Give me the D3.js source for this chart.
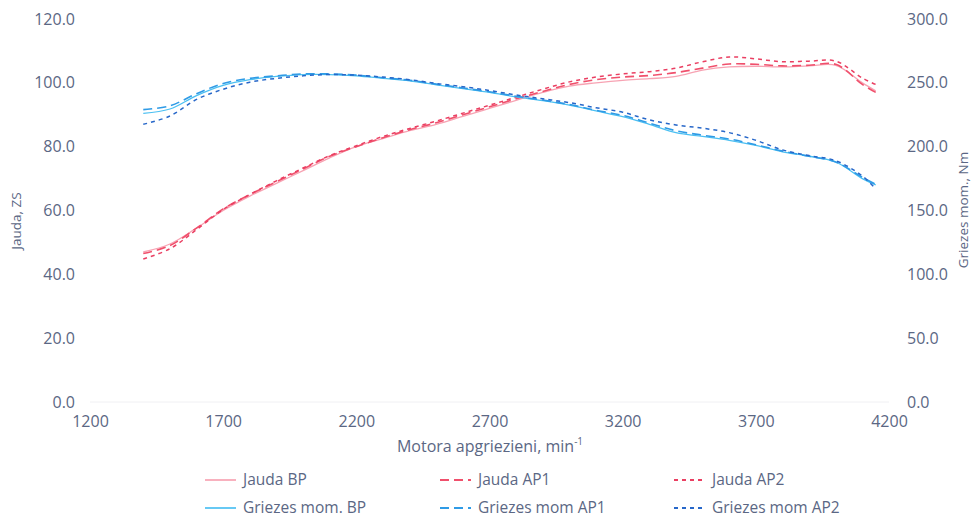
<!DOCTYPE html>
<html lang="en">
<head>
    <meta charset="UTF-8">
    <title>Jauda un griezes moments</title>
    <script src="https://d3js.org/d3.v7.min.js"></script>
    <style>
        body {margin: 0; background: #fff;}
        text {
            font-family: "Open Sans", sans-serif;
            fill: #5b6784;
        }
    </style>
</head>
<body>
<script>
    const width = 973;
    const height = 519;

    // data
    const rpm = [1400, 1500, 1600, 1700, 1800, 1900, 2000, 2100, 2200, 2300, 2400, 2500, 2600, 2700, 2800,
                 2900, 3000, 3100, 3200, 3300, 3400, 3500, 3600, 3700, 3800, 3900, 4000, 4100, 4150];

    const jaudaBP  = [47.0, 49.5, 54.5, 60.0, 64.5, 68.5, 72.5, 76.5, 80.0, 82.5, 85.0, 87.0, 89.5, 92.0, 94.5,
                      97.0, 99.0, 100.0, 100.8, 101.3, 102.0, 104.0, 105.0, 105.2, 105.0, 105.3, 105.5, 100.0, 97.5];
    const jaudaAP1 = [46.5, 49.0, 54.5, 60.5, 65.0, 69.0, 73.0, 77.0, 80.0, 82.8, 85.3, 87.5, 90.0, 92.5, 95.0,
                      97.3, 99.5, 101.0, 101.8, 102.3, 103.2, 104.6, 105.9, 105.8, 105.3, 105.5, 105.8, 99.5, 97.0];
    const jaudaAP2 = [44.8, 48.0, 54.0, 60.3, 65.0, 69.3, 73.3, 77.2, 80.3, 83.2, 85.7, 88.0, 90.5, 93.0, 95.5,
                      98.0, 100.3, 101.8, 102.8, 103.5, 104.6, 106.6, 108.1, 107.5, 106.6, 106.8, 106.8, 101.5, 99.5];

    const momBP  = [226, 229.5, 240, 248, 252.5, 255, 256.5, 256.5, 255.5, 253.5, 251.5, 248.5, 245.5, 242.5, 239,
                    236, 232.5, 228, 223.5, 217.5, 211, 208, 205, 201, 196, 192.5, 188, 175, 170];
    const momAP1 = [229, 232, 241.5, 249.5, 253.5, 255.5, 257, 257, 256, 254, 252, 249, 246, 243, 239.5,
                    236.5, 233, 228.5, 224.5, 218.5, 212.5, 209, 206, 201.5, 196.5, 192.5, 188, 176, 170.5];
    const momAP2 = [217.5, 224, 237, 245, 250.5, 253.5, 255.5, 256.5, 256, 254.5, 252.5, 249.5, 247, 244, 240.5,
                    237.5, 234.5, 230.5, 227, 221, 217, 214.5, 211, 205, 197.5, 193, 189, 177, 167];

    const xTicks = [1200, 1700, 2200, 2700, 3200, 3700, 4200];
    const leftTicks = [0, 20, 40, 60, 80, 100, 120];
    const rightTicks = [0, 50, 100, 150, 200, 250, 300];

    const series = [
        {name: "Jauda BP",        values: jaudaBP,  axis: "left",  color: "#f7a3b3", dash: null,   w: 1.3},
        {name: "Jauda AP1",       values: jaudaAP1, axis: "left",  color: "#f0506c", dash: "9,5",  w: 1.6},
        {name: "Jauda AP2",       values: jaudaAP2, axis: "left",  color: "#ea3f62", dash: "4,4",  w: 1.5},
        {name: "Griezes mom. BP", values: momBP,    axis: "right", color: "#4cc0f2", dash: null,   w: 1.3},
        {name: "Griezes mom AP1", values: momAP1,   axis: "right", color: "#2f9be6", dash: "9,5",  w: 1.6},
        {name: "Griezes mom AP2", values: momAP2,   axis: "right", color: "#2767c9", dash: "4,4",  w: 1.5}
    ];

    const svg = d3.select("body").append("svg")
            .attr("width", width).attr("height", height);

    const x = d3.scaleLinear().domain([1200, 4200]).range([90, 889]);
    const yL = d3.scaleLinear().domain([0, 120]).range([402, 19]);
    const yR = d3.scaleLinear().domain([0, 300]).range([402, 19]);

    // axes, no domain lines
    const fmt = d3.format(".1f");

    const xAxis = svg.append("g")
            .attr("transform", "translate(0,402)")
            .call(d3.axisBottom(x).tickValues(xTicks).tickSize(0).tickPadding(14).tickFormat(d3.format("d")));

    const leftAxis = svg.append("g")
            .attr("transform", "translate(90,0)")
            .call(d3.axisLeft(yL).tickValues(leftTicks).tickSize(0).tickPadding(15).tickFormat(fmt));

    const rightAxis = svg.append("g")
            .attr("transform", "translate(889,0)")
            .call(d3.axisRight(yR).tickValues(rightTicks).tickSize(0).tickPadding(18).tickFormat(fmt));

    [xAxis, leftAxis, rightAxis].forEach(g => {
        g.select(".domain").remove();
        g.selectAll("text")
                .style("font-family", '"Open Sans", sans-serif')
                .style("font-size", "16px")
                .style("fill", "#5b6784");
    });

    // faint base line at zero
    svg.append("line")
            .attr("x1", x(1200)).attr("x2", x(4200))
            .attr("y1", yL(0)).attr("y2", yL(0))
            .style("stroke", "#f0f0f3")
            .style("stroke-width", 1);

    // axis titles
    const xt = svg.append("text")
            .attr("x", 490).attr("y", 452)
            .attr("text-anchor", "middle")
            .style("font-size", "16px");
    xt.append("tspan").text("Motora apgriezieni, min");
    xt.append("tspan").text("-1").attr("dy", -7).style("font-size", "10px");

    svg.append("text")
            .attr("transform", "translate(21,221) rotate(-90)")
            .attr("text-anchor", "middle")
            .style("font-size", "13.5px")
            .text("Jauda, ZS");

    svg.append("text")
            .attr("transform", "translate(968,210) rotate(-90)")
            .attr("text-anchor", "middle")
            .style("font-size", "13.5px")
            .text("Griezes mom., Nm");

    // lines
    const lineFor = s => d3.line()
            .x((d, i) => x(rpm[i]))
            .y(d => (s.axis === "left" ? yL(d) : yR(d)))
            .curve(d3.curveCatmullRom);

    svg.selectAll("path.series")
            .data(series)
            .enter()
            .append("path")
            .attr("class", "series")
            .attr("d", s => lineFor(s)(s.values))
            .style("fill", "none")
            .style("stroke", s => s.color)
            .style("stroke-width", s => s.w)
            .style("stroke-dasharray", s => s.dash);

    // legend
    const legX = [205, 440, 674];
    const legY = [480, 508];

    const leg = svg.selectAll("g.legend")
            .data(series)
            .enter()
            .append("g")
            .attr("class", "legend")
            .attr("transform", (d, i) => `translate(${legX[i % 3]},${legY[Math.floor(i / 3)]})`);

    leg.append("line")
            .attr("x1", 0).attr("x2", 31)
            .attr("y1", 0).attr("y2", 0)
            .style("stroke", d => d.color)
            .style("stroke-width", d => d.w + 0.4)
            .style("stroke-dasharray", d => d.dash);

    leg.append("text")
            .attr("x", 38).attr("y", 0)
            .attr("dy", "0.33em")
            .style("font-size", "15.5px")
            .text(d => d.name);
</script>
</body>
</html>
